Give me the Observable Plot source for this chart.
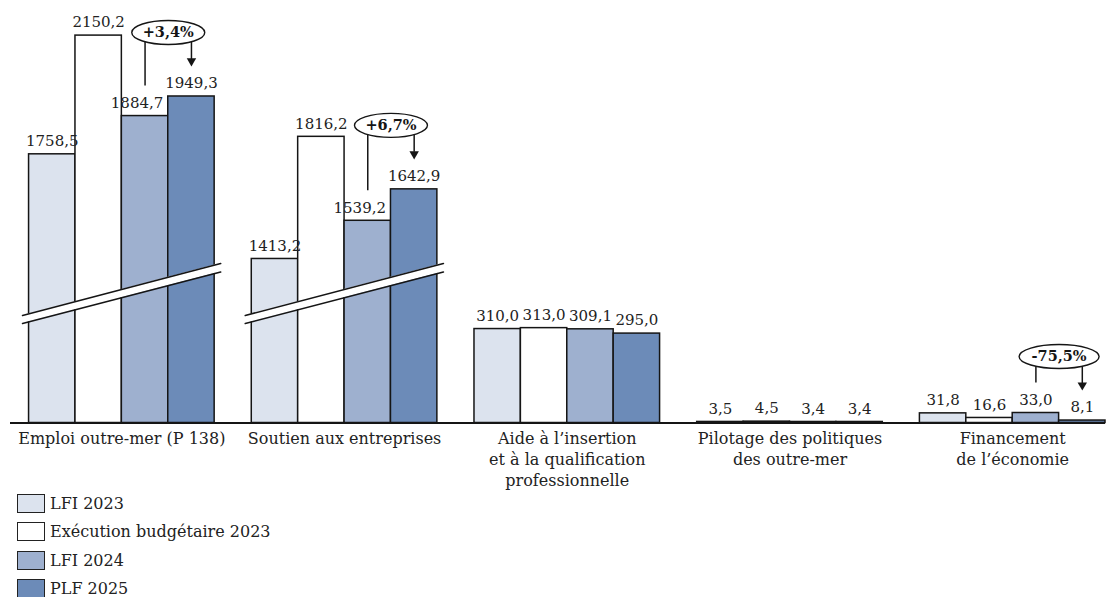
<!DOCTYPE html>
<html><head><meta charset="utf-8">
<script src="https://cdn.jsdelivr.net/npm/d3@7"></script>
<script src="https://cdn.jsdelivr.net/npm/@observablehq/plot@0.6"></script>
<style>
body{margin:0;background:#fff;font-family:"DejaVu Serif",serif;color:#222;}
#legend{margin-left:17px;margin-top:-1px;}
.item{display:flex;align-items:center;height:28.5px;font-size:16px;}
.sw{box-sizing:border-box;width:28px;height:19px;border:1.8px solid #222;margin-right:5px;}
</style></head><body><div id="chart"></div><div id="legend"></div>
<script>
const categories = [
  "Emploi outre-mer (P 138)",
  "Soutien aux entreprises",
  "Aide à l’insertion\net à la qualification\nprofessionnelle",
  "Pilotage des politiques\ndes outre-mer",
  "Financement\nde l’économie"
];
const seriesNames = ["LFI 2023", "Exécution budgétaire 2023", "LFI 2024", "PLF 2025"];
const lfi2023 = [1758.5, 1413.2, 310.0, 3.5, 31.8];
const execution2023 = [2150.2, 1816.2, 313.0, 4.5, 16.6];
const lfi2024 = [1884.7, 1539.2, 309.1, 3.4, 33.0];
const plf2025 = [1949.3, 1642.9, 295.0, 3.4, 8.1];
const evolution = ["+3,4%", "+6,7%", null, null, "-75,5%"];
const brokenCategories = ["Emploi outre-mer (P 138)", "Soutien aux entreprises"];
const breakOffset = 872;

const colors = ["#dce3ee", "#ffffff", "#9eb0cf", "#6c8bb8"];

const valuesBySeries = [lfi2023, execution2023, lfi2024, plf2025];
const GROUP_STEP = 4.8;
const W = 1110, H = 490, MT = 10, MB = 67.5, ML = 10, MR = 5;
const YMAX = 1361;
const k = YMAX / (H - MB - MT); // data units per pixel

const rows = [];
categories.forEach((c, gi) => seriesNames.forEach((s, si) => {
  const v = valuesBySeries[si][gi];
  const broken = brokenCategories.includes(c);
  rows.push({category: c, series: s, gi, si, value: v,
    shown: broken ? v - breakOffset : v,
    x1: gi * GROUP_STEP + si, x2: gi * GROUP_STEP + si + 1, broken});
}));
const fmt = v => v.toFixed(1).replace(".", ",");

const breaks = [];
brokenCategories.forEach(c => {
  const gi = categories.indexOf(c);
  breaks.push({gi, x: gi * GROUP_STEP - 0.14, lo: 99.5 * k, hi: 107.5 * k});
  breaks.push({gi, x: gi * GROUP_STEP + 4.13, lo: 151 * k, hi: 159.5 * k});
});

const annotations = evolution.map((e, gi) => e && {
  gi, label: e,
  plf: rows.find(r => r.gi === gi && r.si === 3).shown,
  lfi: rows.find(r => r.gi === gi && r.si === 2).shown
}).filter(Boolean);

function ellipseSymbol(rx, ry) {
  const c = 0.5523;
  return {draw(ctx) {
    ctx.moveTo(rx, 0);
    ctx.bezierCurveTo(rx, c * ry, c * rx, ry, 0, ry);
    ctx.bezierCurveTo(-c * rx, ry, -rx, c * ry, -rx, 0);
    ctx.bezierCurveTo(-rx, -c * ry, -c * rx, -ry, 0, -ry);
    ctx.bezierCurveTo(c * rx, -ry, rx, -c * ry, rx, 0);
    ctx.closePath();
  }};
}

const ink = "#151515";
const chart = Plot.plot({
  width: W, height: H,
  marginTop: MT, marginBottom: MB, marginLeft: ML, marginRight: MR,
  style: {fontFamily: '"DejaVu Serif", serif', color: "#222", background: "white", overflow: "visible"},
  x: {domain: [-0.4, 23.2], axis: null},
  y: {domain: [0, YMAX], axis: null},
  color: {domain: seriesNames, range: colors},
  marks: [
    Plot.rect(rows, {x1: "x1", x2: "x2", y1: () => 0, y2: "shown", fill: "series", stroke: ink, strokeWidth: 1.5}),
    Plot.area(breaks, {x1: "x", y1: "lo", y2: "hi", z: "gi", fill: "white"}),
    Plot.line(breaks, {x: "x", y: "lo", z: "gi", stroke: ink, strokeWidth: 1.6}),
    Plot.line(breaks, {x: "x", y: "hi", z: "gi", stroke: ink, strokeWidth: 1.6}),
    Plot.ruleY([0], {stroke: ink, strokeWidth: 2}),
    Plot.text(rows.filter(r => !(r.broken && r.si === 2)), {x: d => d.x1 + 0.5, y: "shown", text: d => fmt(d.value), dy: -13, fontSize: 15, fill: "#222"}),
    Plot.text(rows.filter(r => r.broken && r.si === 2), {x: d => d.x1 + 0.5, y: "shown", text: d => fmt(d.value), dy: -13, dx: -8, fontSize: 15, fill: "#222"}),
    Plot.text(categories, {x: (d, i) => i * GROUP_STEP + 2, y: () => 0, text: d => d, lineAnchor: "top", dy: 6, fontSize: 16, lineHeight: 1.31, fill: "#222"}),
    Plot.ruleX(annotations, {x: a => a.gi * GROUP_STEP + 2.5, y1: a => a.lfi + 30 * k, y2: a => a.plf + 64 * k, stroke: ink, strokeWidth: 1.5}),
    Plot.ruleX(annotations, {x: a => a.gi * GROUP_STEP + 3.5, y1: a => a.plf + 64 * k, y2: a => a.plf + 37 * k, stroke: ink, strokeWidth: 1.5}),
    ...annotations.map(a => Plot.dot([a], {x: d => d.gi * GROUP_STEP + 3, y: d => d.plf + 64 * k, symbol: ellipseSymbol(3.5 * a.label.length + 19, 12), r: 5, fill: "white", stroke: ink, strokeWidth: 1.4})),
    Plot.text(annotations, {x: a => a.gi * GROUP_STEP + 3, y: a => a.plf + 64 * k, text: "label", fontWeight: "bold", fontSize: 14.5, fill: ink}),
    Plot.dot(annotations, {x: a => a.gi * GROUP_STEP + 3.5, y: a => a.plf + 35.4 * k, symbol: "triangle", rotate: 180, r: 3.5, fill: ink, stroke: "none"})
  ]
});
document.getElementById("chart").appendChild(chart);

const legend = document.getElementById("legend");
seriesNames.forEach((s, i) => {
  const item = document.createElement("div");
  item.className = "item";
  const sw = document.createElement("span");
  sw.className = "sw";
  sw.style.background = colors[i];
  const label = document.createElement("span");
  label.textContent = s;
  item.appendChild(sw);
  item.appendChild(label);
  legend.appendChild(item);
});
</script></body></html>
